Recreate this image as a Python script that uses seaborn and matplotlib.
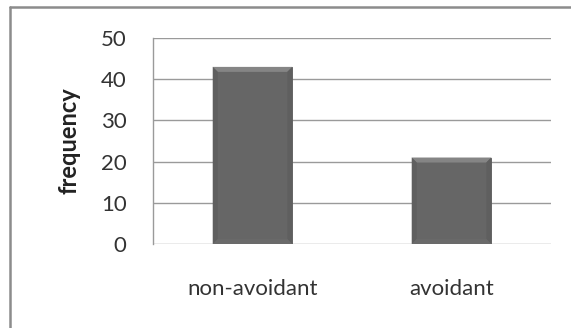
import matplotlib
matplotlib.use("Agg")
import matplotlib.pyplot as plt
from matplotlib.patches import Polygon
from matplotlib.lines import Line2D
import seaborn as sns
import pandas as pd

categories = ["non-avoidant", "avoidant"]
frequency = [43, 21]
y_ticks = [0, 10, 20, 30, 40, 50]
y_label = "frequency"

sns.set_theme(style="white")
plt.rcParams["font.family"] = ["Lato", "DejaVu Sans"]

df = pd.DataFrame({"group": categories, "frequency": frequency})

fig = plt.figure(figsize=(5.71, 3.28), dpi=100)
ax = fig.add_axes([0.268, 0.256, 0.697, 0.628])

sns.barplot(data=df, x="group", y="frequency", color="#666666", saturation=1,
            width=0.4, ax=ax, zorder=3, edgecolor="#5e5e5e", linewidth=0.6)

ax.set_ylim(0, 50)
ax.set_yticks(y_ticks)
ax.set_yticklabels([str(t) for t in y_ticks])
ax.yaxis.grid(True, color="#9a9a9a", linewidth=1.0, zorder=0)
ax.xaxis.grid(False)
for side in ["top", "right", "bottom"]:
    ax.spines[side].set_visible(False)
ax.spines["left"].set_color("#9a9a9a")
ax.spines["left"].set_linewidth(1.0)
ax.tick_params(axis="y", length=0, pad=19, labelsize=16, labelcolor="#333333")
ax.tick_params(axis="x", length=0, pad=25, labelsize=16, labelcolor="#333333")
ax.set_xlabel("")
ax.set_ylabel(y_label, fontsize=17, fontweight="bold", color="#222222", labelpad=15)

# bevel shading on each bar, built from the bar geometry
to_data = ax.transData
inv = to_data.inverted()
for bar in ax.patches:
    x0, y0 = bar.get_x(), bar.get_y()
    w, h = bar.get_width(), bar.get_height()
    (px0, py0) = to_data.transform((x0, y0))
    (px1, py1) = to_data.transform((x0 + w, y0 + h))
    b = 5
    corners = {
        "top": [(px0, py1), (px1, py1), (px1 - b, py1 - b), (px0 + b, py1 - b)],
        "left": [(px0, py0), (px0, py1), (px0 + b, py1 - b), (px0 + b, py0 + b)],
        "right": [(px1, py0), (px1, py1), (px1 - b, py1 - b), (px1 - b, py0 + b)],
        "bottom": [(px0, py0), (px1, py0), (px1 - b, py0 + b), (px0 + b, py0 + b)],
    }
    shades = {"top": "#858585", "left": "#5f5f5f", "right": "#5f5f5f", "bottom": "#6a6a6a"}
    for k, pts in corners.items():
        data_pts = inv.transform(pts)
        ax.add_patch(Polygon(data_pts, closed=True, facecolor=shades[k],
                             edgecolor="none", zorder=4))

# outer frame lines
fig.add_artist(Line2D([10 / 571, 10 / 571], [0, 1 - 7 / 328], color="#8c8c8c",
                      linewidth=1.8, transform=fig.transFigure))
fig.add_artist(Line2D([10 / 571, 1], [1 - 7 / 328, 1 - 7 / 328], color="#8c8c8c",
                      linewidth=1.8, transform=fig.transFigure))

fig.savefig("out.png", dpi=100, facecolor="white")
